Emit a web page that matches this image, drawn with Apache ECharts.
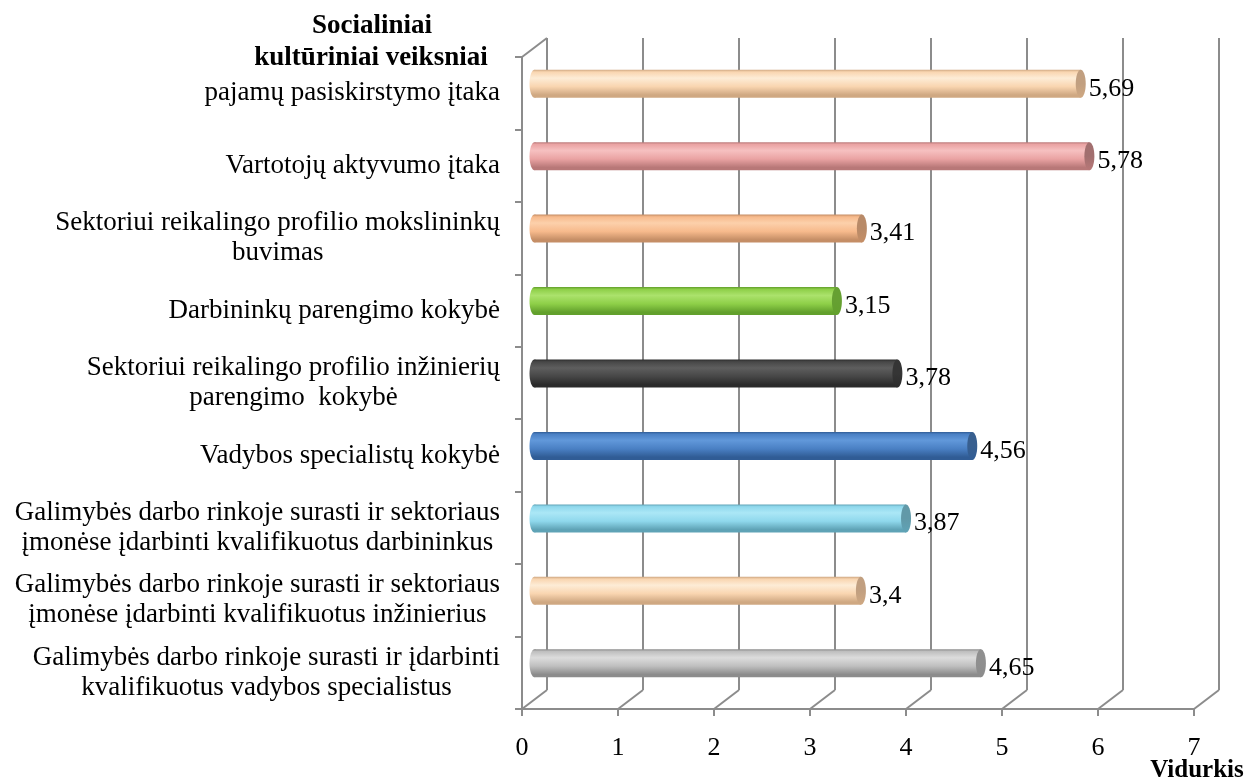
<!DOCTYPE html>
<html>
<head>
<meta charset="utf-8">
<script src="https://cdn.jsdelivr.net/npm/echarts@6/dist/echarts.min.js"></script>
<style>
  html, body { margin: 0; padding: 0; background: #ffffff; }
  #chart { width: 1250px; height: 781px; }
</style>
</head>
<body>
<div id="chart"></div>
<script>
// Factor names (top to bottom)
const categories = [
  'pajamų pasiskirstymo įtaka',
  'Vartotojų aktyvumo įtaka',
  'Sektoriui reikalingo profilio mokslininkų\nbuvimas',
  'Darbininkų parengimo kokybė',
  'Sektoriui reikalingo profilio inžinierių\nparengimo  kokybė',
  'Vadybos specialistų kokybė',
  'Galimybės darbo rinkoje surasti ir sektoriaus\nįmonėse įdarbinti kvalifikuotus darbininkus',
  'Galimybės darbo rinkoje surasti ir sektoriaus\nįmonėse įdarbinti kvalifikuotus inžinierius',
  'Galimybės darbo rinkoje surasti ir įdarbinti\nkvalifikuotus vadybos specialistus'
];

// Mean score per factor
const values = [5.69, 5.78, 3.41, 3.15, 3.78, 4.56, 3.87, 3.4, 4.65];

// Value axis ticks
const xTicks = [0, 1, 2, 3, 4, 5, 6, 7];

// Titles
const groupTitle = ['Socialiniai', 'kultūriniai veiksniai'];
const valueAxisName = 'Vidurkis';

// Cylinder shades per bar: [highlight, body, shadow, end cap]
const barShades = [
  ['#fdecd6', '#f9d5b0', '#cfa882', '#c19f80'],
  ['#f6c0c0', '#eaa3a3', '#b87878', '#a26f6f'],
  ['#fcd0ab', '#f7ba8c', '#c58e66', '#b88a68'],
  ['#abe26c', '#8ecf48', '#62a02c', '#66a032'],
  ['#5e5e5e', '#474747', '#2b2b2b', '#353535'],
  ['#6198da', '#4a80c4', '#305c95', '#385f8f'],
  ['#abe7f6', '#8fd8ec', '#5fa3b6', '#6199a8'],
  ['#fdecd6', '#f9d5b0', '#cfa882', '#c19f80'],
  ['#dcdcdc', '#bfbfbf', '#8c8c8c', '#8f8f8f']
];

// Depth of the 3D walls in pixels
const DEPTH_X = 25, DEPTH_Y = -19;
const BAR_H = 28, CAP_RX = 5;
const FRAME_COLOR = '#8c8c8c';
const SERIF = '"Liberation Serif", "Times New Roman", serif';

const chart = echarts.init(document.getElementById('chart'), null, { renderer: 'canvas' });

function bodyGradient(s) {
  return new echarts.graphic.LinearGradient(0, 0, 0, 1, [
    { offset: 0, color: s[2] },
    { offset: 0.08, color: s[1] },
    { offset: 0.3, color: s[0] },
    { offset: 0.6, color: s[1] },
    { offset: 0.9, color: s[2] },
    { offset: 1, color: s[2] }
  ]);
}

function renderFrame(params, api) {
  const cs = params.coordSys;
  const top = cs.y, bottom = cs.y + cs.height;
  const t = api.value(0);
  const x = api.coord([t, 0])[0];
  const ls = { stroke: FRAME_COLOR, lineWidth: 2 };
  const children = [
    { type: 'line', shape: { x1: x, y1: bottom, x2: x + DEPTH_X, y2: bottom + DEPTH_Y }, style: ls },
    { type: 'line', shape: { x1: x + DEPTH_X, y1: bottom + DEPTH_Y, x2: x + DEPTH_X, y2: top + DEPTH_Y }, style: ls }
  ];
  if (t === 0) {
    children.push({ type: 'line', shape: { x1: x, y1: top, x2: x + DEPTH_X, y2: top + DEPTH_Y }, style: ls });
  }
  return { type: 'group', children: children };
}

function renderBar(params, api) {
  const v = api.value(0), ci = api.value(1);
  const start = api.coord([0, ci]);
  const end = api.coord([v, ci]);
  const x0 = start[0] + DEPTH_X / 2;
  const x1 = end[0] + DEPTH_X / 2;
  const cy = start[1] + DEPTH_Y / 2;
  const s = barShades[params.dataIndex];
  const grad = bodyGradient(s);
  const capGrad = new echarts.graphic.LinearGradient(0, 0, 0, 1, [
    { offset: 0, color: s[3] },
    { offset: 0.5, color: s[3] },
    { offset: 1, color: s[2] }
  ]);
  return {
    type: 'group',
    children: [
      { type: 'ellipse', shape: { cx: x0, cy: cy, rx: CAP_RX, ry: BAR_H / 2 }, style: { fill: grad } },
      { type: 'rect', shape: { x: x0, y: cy - BAR_H / 2, width: x1 - x0, height: BAR_H }, style: { fill: grad } },
      { type: 'ellipse', shape: { cx: x1, cy: cy, rx: CAP_RX, ry: BAR_H / 2 }, style: { fill: capGrad } },
      {
        type: 'text',
        style: {
          text: String(v).replace('.', ','),
          x: x1 + CAP_RX + 3, y: cy + 5,
          verticalAlign: 'middle', align: 'left',
          font: '26px ' + SERIF, fill: '#000'
        }
      }
    ]
  };
}

const option = {
  animation: false,
  backgroundColor: '#ffffff',
  grid: { left: 522, right: 56, top: 57, bottom: 72, containLabel: false },
  xAxis: {
    type: 'value', min: 0, max: 7, interval: 1,
    axisLine: { show: true, lineStyle: { color: FRAME_COLOR, width: 2 } },
    axisTick: { show: true, length: 7, lineStyle: { color: FRAME_COLOR, width: 2 } },
    axisLabel: { fontFamily: SERIF, fontSize: 26, color: '#000', margin: 26 },
    splitLine: { show: false }
  },
  yAxis: {
    type: 'category', inverse: true, data: categories,
    axisLine: { show: true, lineStyle: { color: FRAME_COLOR, width: 2 } },
    axisTick: { show: true, length: 7, lineStyle: { color: FRAME_COLOR, width: 2 } },
    axisLabel: {
      margin: 22,
      formatter: function (val) {
        return val.split('\n').map(function (l) { return '{c|' + l + '}'; }).join('\n');
      },
      rich: {
        c: { fontFamily: SERIF, fontSize: 27, color: '#000', align: 'center', lineHeight: 30 }
      }
    },
    splitLine: { show: false }
  },
  graphic: [
    { type: 'text', x: 372, y: 26, style: { text: groupTitle[0], font: 'bold 27px ' + SERIF, fill: '#000', align: 'center', verticalAlign: 'middle' } },
    { type: 'text', x: 371, y: 58, style: { text: groupTitle[1], font: 'bold 27px ' + SERIF, fill: '#000', align: 'center', verticalAlign: 'middle' } },
    { type: 'text', x: 1197, y: 771, style: { text: valueAxisName, font: 'bold 25px ' + SERIF, fill: '#000', align: 'center', verticalAlign: 'middle' } }
  ],
  series: [
    {
      type: 'custom', name: 'frame', z: 1, silent: true,
      renderItem: renderFrame,
      data: xTicks.map(function (t) { return [t]; }),
      encode: { x: 0 }
    },
    {
      type: 'custom', name: 'Vidurkis', z: 3,
      renderItem: renderBar,
      data: values.map(function (v, i) { return [v, i]; }),
      encode: { x: 0, y: 1 }
    }
  ]
};

chart.setOption(option);
</script>
</body>
</html>
